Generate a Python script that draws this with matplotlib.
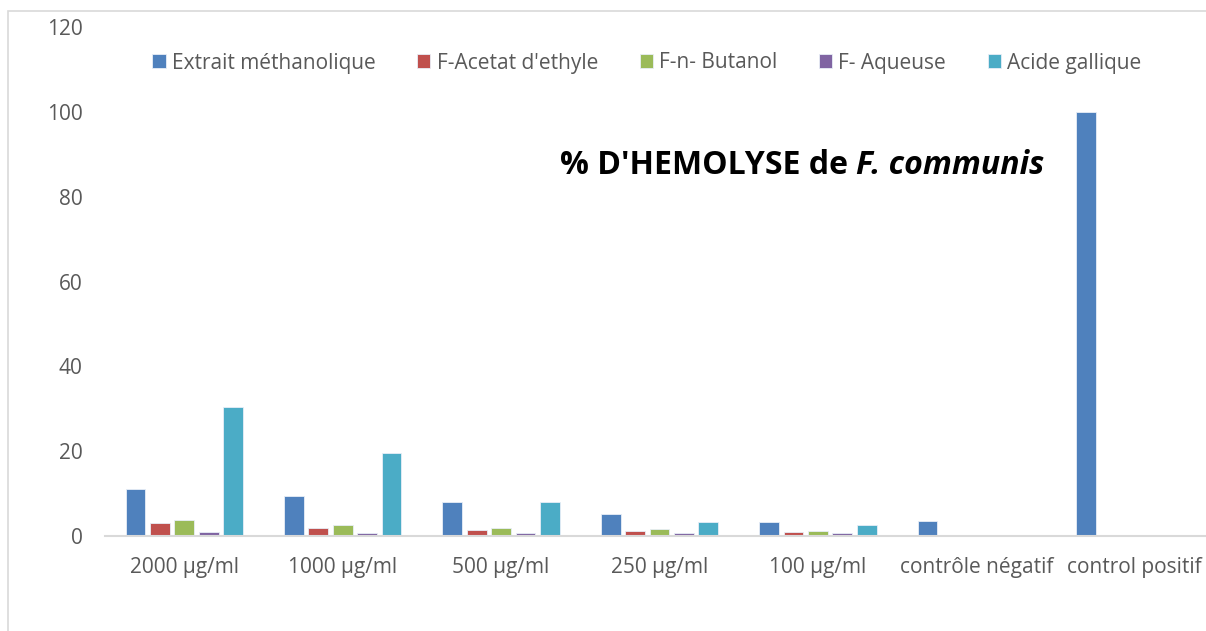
import matplotlib.pyplot as plt
import numpy as np
from matplotlib.patches import Rectangle

plt.rcParams['font.family'] = ['Open Sans', 'DejaVu Sans']

categories = ["2000 µg/ml", "1000 µg/ml", "500 µg/ml", "250 µg/ml", "100 µg/ml",
              "contrôle négatif", "control positif"]
series_names = ["Extrait méthanolique", "F-Acetat d'ethyle", "F-n- Butanol",
                "F- Aqueuse", "Acide gallique"]
extrait = [11.1, 9.4, 7.9, 5.2, 3.3, 3.5, 100]
acetat = [3.1, 1.9, 1.5, 1.2, 0.9, 0, 0]
butanol = [3.7, 2.6, 2.0, 1.6, 1.1, 0, 0]
aqueuse = [0.9, 0.8, 0.8, 0.7, 0.6, 0, 0]
gallique = [30.3, 19.6, 7.9, 3.2, 2.7, 0, 0]
colors = ['#4F81BD', '#C0504D', '#9BBB59', '#8064A2', '#4BACC6']

fig = plt.figure(figsize=(12.06, 6.31), dpi=100)
# chart border (partly outside the picture)
fig.patches.append(Rectangle((8 / 1206, -0.1), 1.2, (631 - 11) / 631 + 0.1,
                             transform=fig.transFigure, fill=False,
                             edgecolor='#D9D9D9', linewidth=1.2))
ax = fig.add_axes([105 / 1206, 95 / 631, 1109 / 1206, 509 / 631])

x = np.arange(len(categories))
step = 0.154
width = 0.125
all_series = [extrait, acetat, butanol, aqueuse, gallique]
for i, (vals, name, c) in enumerate(zip(all_series, series_names, colors)):
    ax.bar(x + (i - 2) * step, vals, width, color=c, label=name,
           edgecolor='#E8EEF7', linewidth=0.6)

ax.set_xlim(-0.5, len(categories) - 0.5)
ax.set_ylim(0, 120)
ax.set_yticks(range(0, 121, 20))
ax.set_xticks(x)
ax.set_xticklabels(categories)
for s in ['top', 'right', 'left']:
    ax.spines[s].set_visible(False)
ax.spines['bottom'].set_color('#D9D9D9')
ax.spines['bottom'].set_linewidth(1.5)
ax.tick_params(axis='both', length=0, labelsize=15, labelcolor='#595959')
ax.tick_params(axis='x', pad=15)
ax.tick_params(axis='y', pad=16)

ax.legend(loc='center left', bbox_to_anchor=(142 / 1206, 1 - 63 / 631),
          bbox_transform=fig.transFigure, ncol=5, frameon=False, fontsize=15,
          borderpad=0, handlelength=0.63, handleheight=0.63,
          handletextpad=0.3, columnspacing=2.0, labelcolor='#595959')

t1 = fig.text(560 / 1206, 1 - 174 / 631, "% D'HEMOLYSE de ", fontsize=23,
              fontweight='bold', ha='left', va='baseline')
ax.annotate("F. communis", xy=(1, 0), xycoords=t1, fontsize=23,
            fontweight='bold', style='italic', ha='left', va='bottom')

fig.savefig("out.png", dpi=100)
